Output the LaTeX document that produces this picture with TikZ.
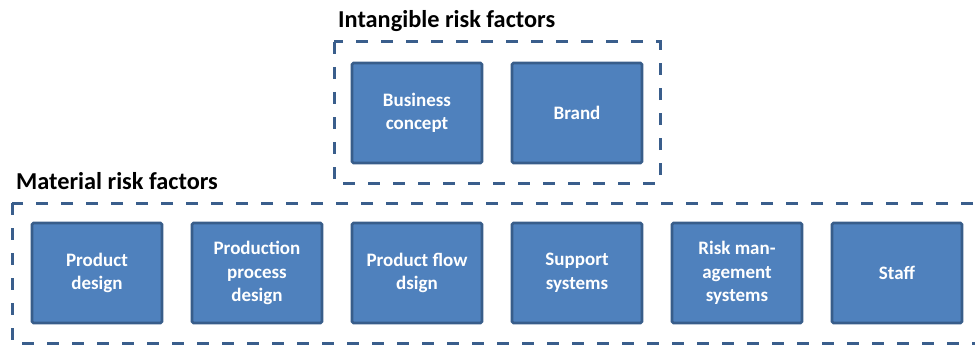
\documentclass[tikz,border=0pt]{standalone}
\usepackage{fontspec}
\setmainfont{Carlito}
\begin{document}
\begin{tikzpicture}[x=1pt,y=-1pt,
  factor/.style={draw=boxedge, fill=boxfill, line width=2.6pt, rounded corners=1.5pt,
    minimum width=130pt, minimum height=100pt, inner sep=0pt, text=white,
    align=center, font=\bfseries\fontsize{19}{23.5}\selectfont},
  frame/.style={draw=frameedge, line width=3pt, dash pattern=on 12pt off 13pt},
  grouptitle/.style={anchor=base west, inner sep=0pt, font=\bfseries\fontsize{24.3}{28}\selectfont}]
\definecolor{boxfill}{HTML}{4F81BD}
\definecolor{boxedge}{HTML}{385D8A}
\definecolor{frameedge}{HTML}{3A5E8C}
\useasboundingbox (0,0) rectangle (975,345);
\clip (0,0) rectangle (975,345);
% Intangible group
\draw[frame] (334,42) rectangle (660,183);
\node[grouptitle] (ttl1) at (338,28) {Intangible risk factors};
\node[factor] (bc) at (417,113) {Business\\concept};
\node[factor] (br) at (577,113) {Brand};
% Material group
\draw[frame] (12,203) rectangle (990,343);
\node[grouptitle] (ttl2) at (16,189) {Material risk factors};
\node[factor] (pd) at (97,273) {Product\\design};
\node[factor] (ppd) at (257,273) {Production\\process\\design};
\node[factor] (pfd) at (417,273) {Product flow\\dsign};
\node[factor] (ss) at (577,273) {Support\\systems};
\node[factor] (rms) at (737,273) {Risk man-\\agement\\systems};
\node[factor] (st) at (897,273) {Staff};
\end{tikzpicture}
\end{document}
